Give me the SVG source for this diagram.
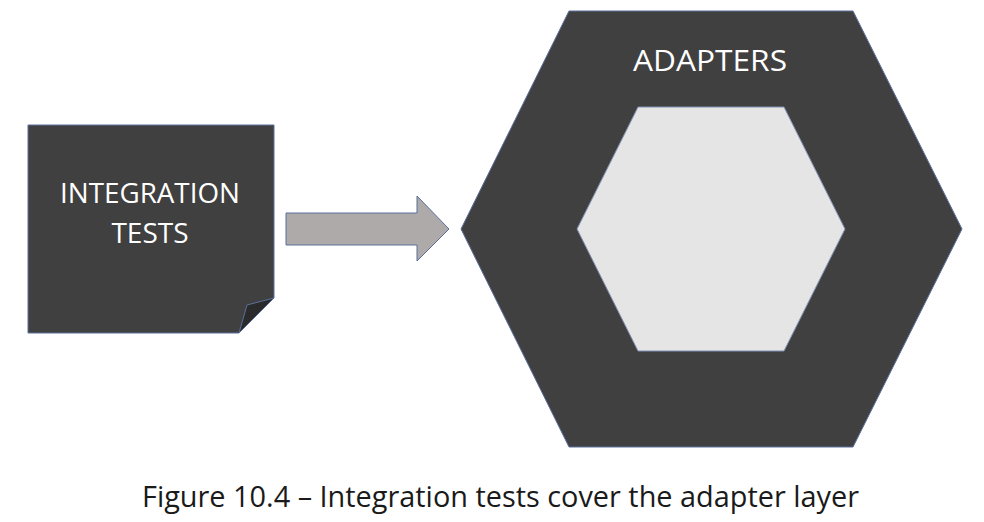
<svg xmlns="http://www.w3.org/2000/svg" width="984" height="522" viewBox="0 0 984 522">
<style>
.dark{fill:#404040;stroke:#5a6f9c;stroke-width:1}
.lbl{font-family:"Open Sans","Liberation Sans",sans-serif;fill:#ffffff;text-anchor:middle}
.cap{font-family:"Open Sans","Liberation Sans",sans-serif;fill:#1a1a1a;font-size:29px}
</style>
<rect width="984" height="522" fill="#ffffff"/>
<g id="integration-tests">
<path class="dark" d="M28,125 H274 V298 L239,333 H28 Z"/>
<path d="M274,298 L247,305 L239,333 Z" fill="#2b2b2b" stroke="#5a6f9c" stroke-width="1"/>
<text class="lbl" x="150" y="203" font-size="28" textLength="180" lengthAdjust="spacingAndGlyphs">INTEGRATION</text>
<text class="lbl" x="150" y="243" font-size="28">TESTS</text>
</g>
<g id="connectors">
<path d="M286,213 H417 V196 L449,229 L417,261 V245 H286 Z" fill="#aeaaa9" stroke="#5a6f9c" stroke-width="1"/>
</g>
<g id="adapters">
<polygon class="dark" points="569,11 853,11 962,229 853,447 569,447 461,229"/>
<text class="lbl" x="710" y="71" font-size="30" textLength="154" lengthAdjust="spacingAndGlyphs">ADAPTERS</text>
</g>
<g id="core">
<polygon points="638,107 784,107 845,229 784,351 638,351 577,229" fill="#e5e5e5" stroke="#7f8fb5" stroke-width="1"/>
</g>
<text class="cap" x="142" y="507" textLength="717" lengthAdjust="spacingAndGlyphs">Figure 10.4 – Integration tests cover the adapter layer</text>
</svg>
